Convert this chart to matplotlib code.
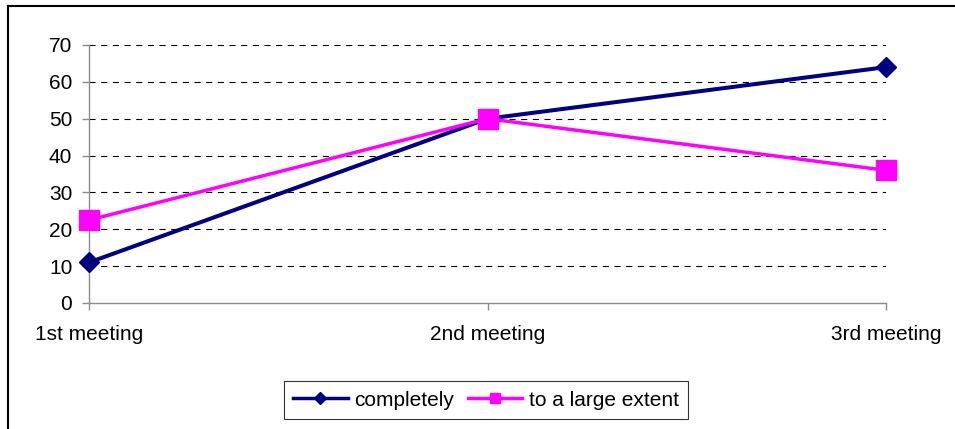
import matplotlib.pyplot as plt
from matplotlib.lines import Line2D

plt.rcParams['font.family'] = ['Liberation Sans', 'DejaVu Sans']

meetings = ['1st meeting', '2nd meeting', '3rd meeting']
completely = [11, 50, 64]
large_extent = [22.5, 50, 36]
yticks = [0, 10, 20, 30, 40, 50, 60, 70]

NAVY = '#000080'
MAGENTA = '#FF00FF'
AXIS_GREY = '#8c8c8c'

fig = plt.figure(figsize=(9.55, 4.29), dpi=100)
ax = fig.add_axes([89 / 955, 1 - 303 / 429, 797 / 955, 258 / 429])

x = list(range(len(meetings)))
ax.plot(x, completely, color=NAVY, lw=2.9, marker='D', ms=10.5,
        markeredgecolor=NAVY, zorder=3, clip_on=False)
ax.plot(x, large_extent, color=MAGENTA, lw=2.5, marker='s', ms=14,
        markeredgecolor=MAGENTA, zorder=4, clip_on=False)

ax.set_xlim(0, 2)
ax.set_ylim(0, 70)
ax.set_xticks(x)
ax.set_xticklabels(meetings)
ax.set_yticks(yticks)

# dashed horizontal grid, no line at zero
for v in yticks[1:]:
    ax.axhline(v, color='black', lw=0.8, ls=(0, (5.5, 5)), zorder=1)

for side in ['top', 'right']:
    ax.spines[side].set_visible(False)
for side in ['left', 'bottom']:
    ax.spines[side].set_color(AXIS_GREY)
    ax.spines[side].set_linewidth(1.0)

ax.tick_params(axis='both', colors=AXIS_GREY, labelcolor='black',
               labelsize=15, length=5, width=1.0)
ax.tick_params(axis='y', pad=7)
ax.tick_params(axis='x', pad=11)

handles = [
    Line2D([], [], color=NAVY, lw=2.5, marker='D', ms=6),
    Line2D([], [], color=MAGENTA, lw=2.5, marker='s', ms=7),
]
leg = fig.legend(handles, ['completely', 'to a large extent'],
                 loc='center', bbox_to_anchor=(486 / 955, 1 - 400 / 429),
                 ncol=2, fontsize=15, frameon=True, fancybox=False,
                 handlelength=2.6, handletextpad=0.3, columnspacing=0.7,
                 borderpad=0.45)
leg.get_frame().set_edgecolor('black')
leg.get_frame().set_linewidth(0.8)

# outer chart border (left and top edges)
fig.add_artist(Line2D([7.5 / 955, 7.5 / 955], [0, 1 - 6 / 429],
                      color='black', lw=1.5, transform=fig.transFigure))
fig.add_artist(Line2D([7.5 / 955, 1], [1 - 6 / 429, 1 - 6 / 429],
                      color='black', lw=1.5, transform=fig.transFigure))

fig.savefig('out.png', dpi=100)
